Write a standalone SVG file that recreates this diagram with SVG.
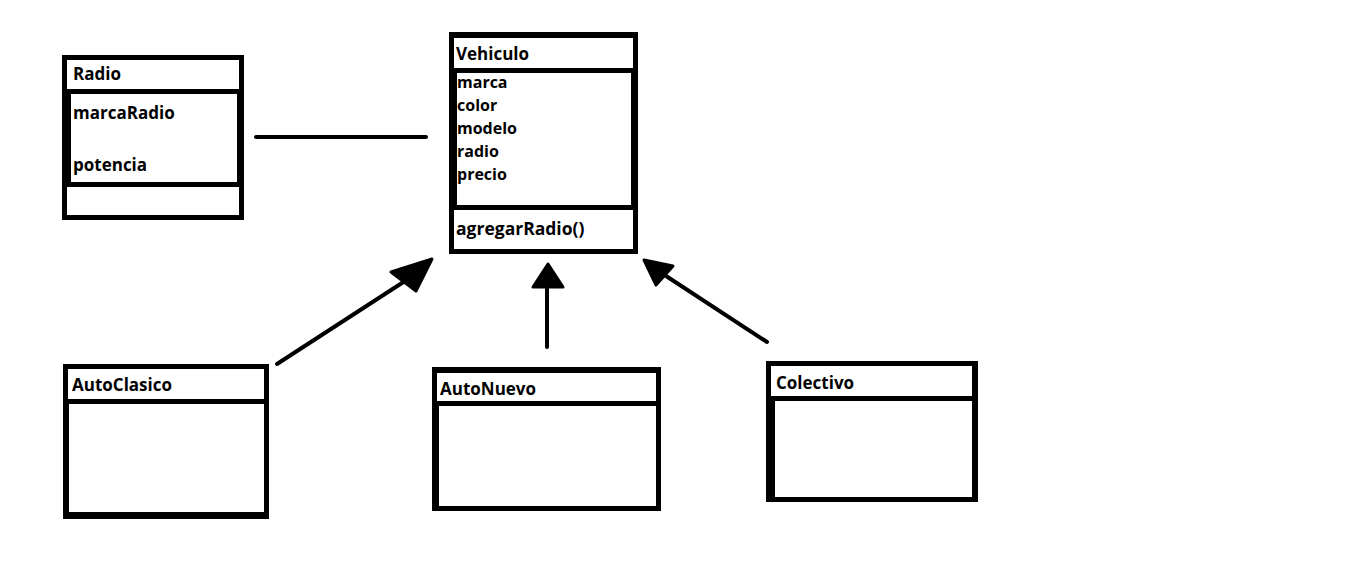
<svg xmlns="http://www.w3.org/2000/svg" width="1360" height="561" viewBox="0 0 1360 561">
<style>
.b{fill:#000}
.w{fill:#fff}
.t{font-family:"Open Sans","Liberation Sans",sans-serif;font-weight:bold;font-size:17px;fill:#000}
.a{font-size:16px}
.m{font-size:17.5px}
.c{stroke:#000;stroke-width:4;stroke-linecap:round;fill:none}
.h{fill:#000;stroke:#000;stroke-width:3;stroke-linejoin:round}
</style>
<rect width="1360" height="561" fill="#fff"/>
<g id="Radio">
<rect class="b" x="62" y="55" width="182" height="165"/>
<rect class="w" x="67" y="60" width="172" height="29"/>
<rect class="w" x="71" y="94" width="166" height="88"/>
<rect class="w" x="67" y="187" width="172" height="28"/>
<text class="t" x="73" y="80">Radio</text>
<text class="t" x="73" y="119">marcaRadio</text>
<text class="t" x="73" y="171">potencia</text>
</g>
<g id="Vehiculo">
<rect class="b" x="449" y="32" width="189" height="222"/>
<rect class="w" x="454" y="38" width="179" height="30"/>
<rect class="w" x="457" y="73" width="174" height="132"/>
<rect class="w" x="454" y="210" width="179" height="39"/>
<text class="t" x="456" y="60">Vehiculo</text>
<text class="t a" x="457" y="88">marca</text>
<text class="t a" x="457" y="111">color</text>
<text class="t a" x="457" y="134">modelo</text>
<text class="t a" x="457" y="157">radio</text>
<text class="t a" x="457" y="180">precio</text>
<text class="t m" x="456" y="235">agregarRadio()</text>
</g>
<g id="AutoClasico">
<rect class="b" x="63" y="364" width="206" height="155"/>
<rect class="w" x="68" y="369" width="196" height="30"/>
<rect class="w" x="69" y="404" width="195" height="108"/>
<text class="t" x="72" y="391">AutoClasico</text>
</g>
<g id="AutoNuevo">
<rect class="b" x="432" y="367" width="229" height="144"/>
<rect class="w" x="437" y="373" width="219" height="28"/>
<rect class="w" x="439" y="406" width="217" height="100"/>
<text class="t" x="440" y="395">AutoNuevo</text>
</g>
<g id="Colectivo">
<rect class="b" x="766" y="361" width="212" height="141"/>
<rect class="w" x="771" y="366" width="201" height="30"/>
<rect class="w" x="775" y="401" width="197" height="96"/>
<text class="t" x="776" y="389">Colectivo</text>
</g>
<g id="connectors">
<line class="c" x1="256" y1="137" x2="426" y2="137"/>
<line class="c" x1="277" y1="364" x2="405" y2="281"/>
<polygon class="h" points="432,259 391,272 416,291"/>
<line class="c" x1="547" y1="347" x2="547" y2="287"/>
<polygon class="h" points="548,264 533,287 563,287"/>
<line class="c" x1="767" y1="342" x2="663" y2="274"/>
<polygon class="h" points="644,260 656,285 673,266"/>
</g>
</svg>
